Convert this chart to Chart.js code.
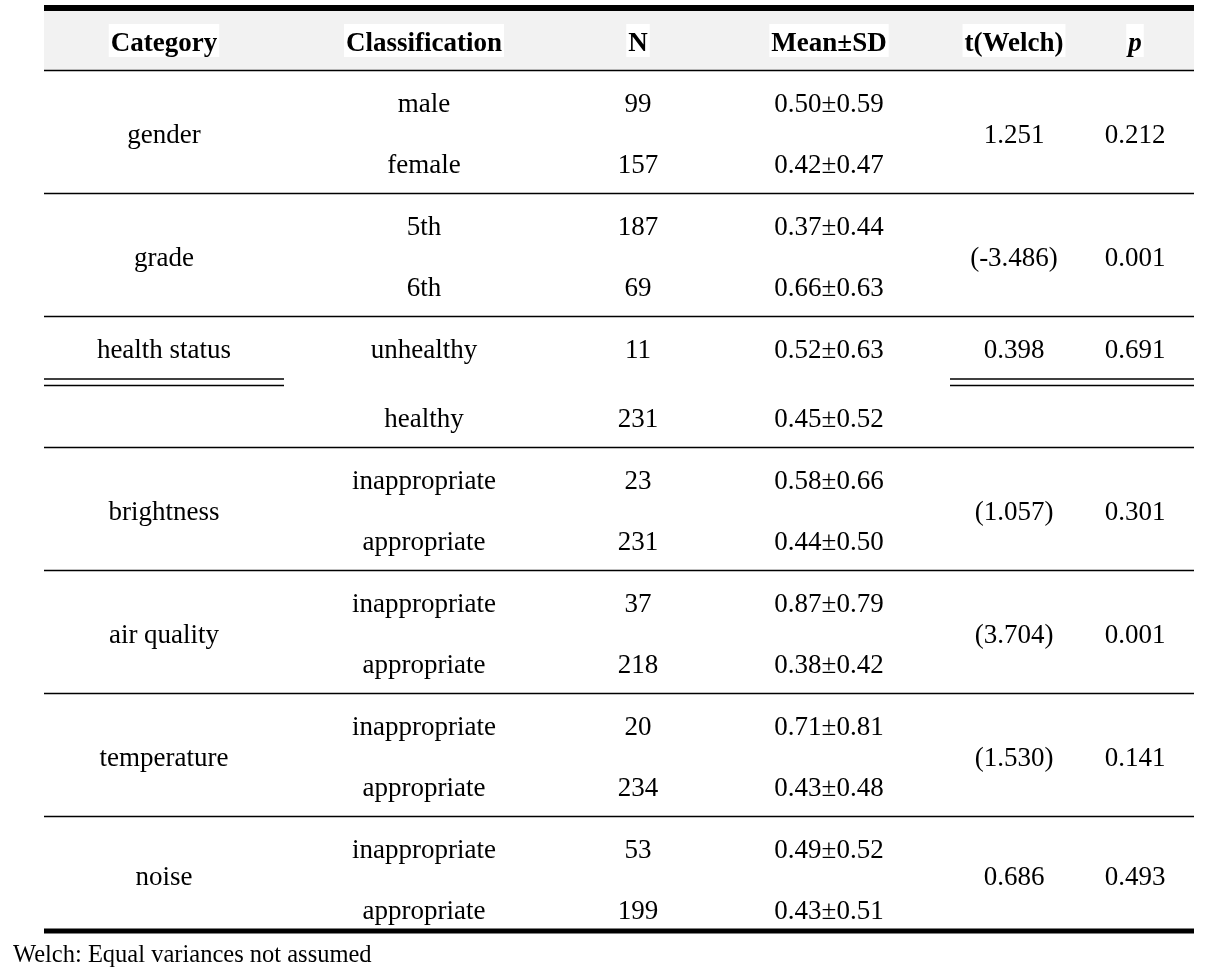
<!DOCTYPE html>
<html>
<head>
<meta charset="utf-8">
<script src="https://cdn.jsdelivr.net/npm/chart.js@4.4.1/dist/chart.umd.min.js"></script>
<style>
  html, body { margin: 0; padding: 0; background: #fff; }
  #wrap { width: 1206px; height: 976px; }
</style>
</head>
<body>
<div id="wrap"><canvas id="tableChart" width="1206" height="976"></canvas></div>
<script>
// table data
const headers = ['Category', 'Classification', 'N', 'Mean±SD', 't(Welch)', 'p'];
const categories = ['gender', 'grade', 'health status', 'brightness', 'air quality', 'temperature', 'noise'];
const classifications = [
    ['male', 'female'],
    ['5th', '6th'],
    ['unhealthy', 'healthy'],
    ['inappropriate', 'appropriate'],
    ['inappropriate', 'appropriate'],
    ['inappropriate', 'appropriate'],
    ['inappropriate', 'appropriate']
];
const nValues = [99, 157, 187, 69, 11, 231, 23, 231, 37, 218, 20, 234, 53, 199];
const means = [0.50, 0.42, 0.37, 0.66, 0.52, 0.45, 0.58, 0.44, 0.87, 0.38, 0.71, 0.43, 0.49, 0.43];
const sds = [0.59, 0.47, 0.44, 0.63, 0.63, 0.52, 0.66, 0.50, 0.79, 0.42, 0.81, 0.48, 0.52, 0.51];
const tValues = [1.251, -3.486, 0.398, 1.057, 3.704, 1.530, 0.686];
const welch = [false, true, false, true, true, true, false];
const pValues = [0.212, 0.001, 0.691, 0.301, 0.001, 0.141, 0.493];
const footnote = 'Welch: Equal variances not assumed';

// layout (pixel units of the hidden axes)
const W = 1206, H = 976;
const tableLeft = 44, tableRight = 1194;
const colX = [164, 424, 638, 829, 1014, 1135];
const groupTop = [70, 193, 316, 447, 570, 693, 816, 931];
const healthIdx = 2;
const bodyFont = '27px "Liberation Serif", "Times New Roman", serif';
const headFont = 'bold 27px "Liberation Serif", "Times New Roman", serif';

// sub-row centres and group centres
const rowY = [];
const groupY = [];
groupTop.slice(0, -1).forEach((top, g) => {
    const first = top + 33;
    const second = first + (g === healthIdx ? 69 : 61);
    rowY.push(first, second);
    groupY.push(g === healthIdx ? first : (top + groupTop[g + 1]) / 2 + 2);
});

const fmtT = (v, w) => w ? '(' + v.toFixed(3) + ')' : v.toFixed(3);

// one dataset per column, each point carries its cell text
const cellSets = [
    { texts: categories, xs: categories.map(() => colX[0]), ys: groupY },
    { texts: classifications.flat(), xs: rowY.map(() => colX[1]), ys: rowY },
    { texts: nValues.map(String), xs: rowY.map(() => colX[2]), ys: rowY },
    { texts: means.map((m, i) => m.toFixed(2) + '±' + sds[i].toFixed(2)), xs: rowY.map(() => colX[3]), ys: rowY },
    { texts: tValues.map((v, i) => fmtT(v, welch[i])), xs: groupY.map(() => colX[4]), ys: groupY },
    { texts: pValues.map(v => v.toFixed(3)), xs: groupY.map(() => colX[5]), ys: groupY }
];

const tablePlugin = {
    id: 'tablePlugin',
    beforeDatasetsDraw(chart) {
        const { ctx, scales: { x, y } } = chart;
        const px = v => x.getPixelForValue(v);
        const py = v => y.getPixelForValue(v);
        ctx.save();
        // header background
        ctx.fillStyle = '#f2f2f2';
        ctx.fillRect(px(tableLeft), py(11), px(tableRight) - px(tableLeft), py(70) - py(11));

        const hline = (x0, x1, yy, w) => {
            ctx.beginPath();
            ctx.lineWidth = w;
            ctx.strokeStyle = '#000';
            ctx.moveTo(px(x0), py(yy));
            ctx.lineTo(px(x1), py(yy));
            ctx.stroke();
        };
        hline(tableLeft, tableRight, 8, 6);
        hline(tableLeft, tableRight, 70.5, 1.6);
        groupTop.slice(1, -1).forEach(t => hline(tableLeft, tableRight, t + 0.5, 1.6));
        // double rule under health status
        hline(tableLeft, 284, 379, 1.6);
        hline(tableLeft, 284, 385.5, 1.6);
        hline(950, tableRight, 379, 1.6);
        hline(950, tableRight, 385.5, 1.6);
        hline(tableLeft, tableRight, 931, 5);

        // headers
        ctx.textAlign = 'center';
        ctx.textBaseline = 'alphabetic';
        headers.forEach((h, i) => {
            ctx.font = i === 5 ? 'italic ' + headFont : headFont;
            const w = ctx.measureText(h).width;
            ctx.fillStyle = '#fff';
            ctx.fillRect(px(colX[i]) - w / 2 - 2, py(24), w + 4, py(57) - py(24));
            ctx.fillStyle = '#000';
            ctx.fillText(h, px(colX[i]), py(51));
        });

        // footnote
        ctx.font = '24.5px "Liberation Serif", "Times New Roman", serif';
        ctx.textAlign = 'left';
        ctx.fillText(footnote, px(13), py(962));
        ctx.restore();
    },
    afterDatasetsDraw(chart) {
        const { ctx } = chart;
        ctx.save();
        ctx.font = bodyFont;
        ctx.fillStyle = '#000';
        ctx.textAlign = 'center';
        ctx.textBaseline = 'alphabetic';
        chart.data.datasets.forEach((ds, di) => {
            chart.getDatasetMeta(di).data.forEach((pt, i) => {
                ctx.fillText(ds.texts[i], pt.x, pt.y + 9);
            });
        });
        ctx.restore();
    }
};

new Chart(document.getElementById('tableChart'), {
    type: 'scatter',
    data: {
        datasets: cellSets.map(c => ({
            texts: c.texts,
            data: c.xs.map((xv, i) => ({ x: xv, y: c.ys[i] })),
            pointRadius: 0,
            pointHoverRadius: 0,
            showLine: false
        }))
    },
    options: {
        responsive: false,
        devicePixelRatio: 1,
        animation: false,
        layout: { padding: 0 },
        plugins: { legend: { display: false }, tooltip: { enabled: false } },
        scales: {
            x: { type: 'linear', min: 0, max: W, display: false },
            y: { type: 'linear', min: 0, max: H, reverse: true, display: false }
        }
    },
    plugins: [tablePlugin]
});
</script>
</body>
</html>
